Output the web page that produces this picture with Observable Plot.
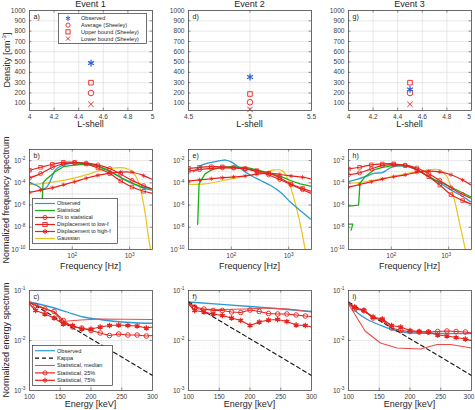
<!DOCTYPE html>
<html>
<head>
<meta charset="utf-8">
<script src="https://cdn.jsdelivr.net/npm/d3@7"></script>
<script src="https://cdn.jsdelivr.net/npm/@observablehq/plot@0.6"></script>
<style>
  body { margin: 0; background: #fff; }
  #fig { position: relative; width: 475px; height: 410px; overflow: hidden;
         font-family: "Liberation Sans", Arial, sans-serif; color: #262626; }
  .lbl { position: absolute; white-space: nowrap; font-size: 9px; line-height: 1; }
  .ylbl { position: absolute; white-space: nowrap; font-size: 9px; line-height: 1;
          transform: translate(-50%, -50%) rotate(-90deg); }
  .lbl sup, .ylbl sup { font-size: 6px; }
</style>
</head>
<body>
<div id="fig"></div>
<script>
// ---------- Density vs L-shell (row 1) ----------
const lshell        = [4.5, 5, 4.5];
const densObserved  = [490, 355, 235];
const densAverage   = [200, 110, 200];
const densUpper     = [300, 190, 300];
const densLower     = [90, 40, 90];

// ---------- Frequency spectra (row 2), values as log10 ----------
const freqGrid = [18, 28, 45, 70, 110, 175, 280, 450, 700, 1100, 1750, 2400];
const fitStat1  = [-3.57, -3.17, -2.62, -2.30, -2.21, -2.23, -2.39, -2.72, -3.22, -3.78, -4.25, -4.53];
const lowF1     = [-2.87, -2.60, -2.33, -2.15, -2.16, -2.31, -2.66, -3.16, -3.84, -4.38, -4.76, -4.92];
const highF1    = [-4.86, -4.66, -4.44, -4.17, -3.90, -3.59, -3.33, -3.13, -3.03, -3.05, -3.35, -3.66];
const fitStat2  = [-2.96, -2.81, -2.69, -2.65, -2.67, -2.75, -2.98, -3.29, -3.70, -4.16, -4.62, -4.93];
const lowF2     = [-2.69, -2.60, -2.55, -2.56, -2.62, -2.72, -2.90, -3.14, -3.55, -4.10, -4.50, -4.75];
const highF2    = [-3.85, -3.74, -3.63, -3.54, -3.47, -3.38, -3.22, -3.12, -3.25, -3.38, -3.50, -3.64];
const fitStat3  = [-3.27, -3.10, -2.74, -2.45, -2.36, -2.41, -2.66, -3.18, -3.78, -4.45, -5.05, -5.36];
const lowF3     = [-2.75, -2.60, -2.38, -2.30, -2.29, -2.45, -2.81, -3.45, -4.20, -5.06, -5.60, -5.87];
const highF3    = [-4.39, -4.15, -3.90, -3.66, -3.45, -3.28, -3.06, -2.95, -3.02, -3.27, -3.75, -4.18];

// [frequency Hz, log10 spectrum]
const obsF1 = [[18,-3.96],[25,-4.3],[30,-4.56],[35,-4.45],[40,-4.0],[45,-3.4],[50,-2.9],[60,-2.55],[70,-2.4],[100,-2.22],[140,-2.2],[200,-2.3],[280,-2.5],[400,-2.8],[560,-3.2],[800,-3.66],[1100,-4.0],[1600,-4.4],[2400,-4.65]];
const statF1 = [[30,-5.5],[31,-4.0],[35,-3.7],[50,-3.0],[70,-2.55],[100,-2.42],[140,-2.35],[200,-2.33],[280,-2.5],[400,-2.85],[560,-3.25],[800,-3.7],[1100,-4.05],[1600,-4.35],[2400,-4.55]];
const gaussF1 = [[18,-4.17],[35,-4.02],[70,-3.78],[140,-3.42],[280,-2.96],[400,-2.75],[560,-2.66],[800,-2.66],[1100,-2.96],[1330,-3.57],[1600,-4.92],[1860,-6.73],[2120,-8.84],[2310,-9.95]];

const obsF2 = [[22,-3.0],[25,-2.75],[30,-2.45],[35,-2.3],[50,-2.12],[65,-2.0],[80,-1.95],[100,-2.12],[148,-2.75],[220,-3.34],[327,-3.79],[485,-4.24],[720,-4.84],[1067,-5.73],[1585,-6.48],[2400,-7.25]];
const statF2 = [[26,-7.73],[27.5,-4.1],[35,-3.19],[45,-2.84],[67,-2.6],[100,-2.54],[200,-2.66],[400,-3.04],[780,-3.49],[1080,-3.79],[1585,-4.09],[2400,-4.3]];
const gaussF2 = [[18,-4.15],[35,-4.09],[100,-3.64],[200,-3.34],[400,-3.04],[553,-2.84],[780,-2.9],[935,-3.49],[1220,-5.28],[1585,-7.67],[1930,-9.97]];

const obsF3 = [[18,-3.9],[25,-3.69],[35,-3.45],[50,-3.14],[70,-3.08],[84,-2.84],[100,-2.6],[140,-2.48],[200,-2.54],[280,-2.84],[400,-3.3],[560,-3.75],[800,-4.2],[1100,-4.65],[1600,-5.1],[2400,-5.7]];
const statF3 = [[18,-6.1],[27,-6.0],[28.5,-4.05],[35,-3.45],[50,-2.84],[70,-2.6],[100,-2.48],[140,-2.42],[200,-2.48],[280,-2.84],[400,-3.3],[560,-3.69],[800,-4.05],[1100,-4.4],[1600,-4.8],[2400,-5.25]];
const statF3b = [[18,-7.72],[21.4,-7.72],[20,-8.26]];
const gaussF3 = [[18,-4.05],[35,-3.9],[70,-3.6],[140,-3.3],[280,-2.99],[560,-2.78],[715,-2.84],[935,-3.45],[1220,-5.25],[1600,-7.96],[1950,-9.98]];

// ---------- Energy spectra (row 3), values as log10 ----------
const energyGrid = [100, 110, 125, 140, 155, 170, 185, 200, 215, 230, 245, 260, 275, 290, 300];
const q25E1 = [-1.25, -1.30, -1.37, -1.42, -1.60, -1.73, -1.75, -1.80, -1.85, -1.90, -1.87, -1.89, -1.89, -1.91, -1.90];
const q75E1 = [-1.27, -1.40, -1.47, -1.55, -1.67, -1.70, -1.77, -1.77, -1.73, -1.70, -1.69, -1.70, -1.71, -1.75, -1.73];
const q25E2 = [-1.25, -1.33, -1.37, -1.40, -1.40, -1.43, -1.44, -1.39, -1.42, -1.46, -1.47, -1.47, -1.49, -1.51, -1.52];
const q75E2 = [-1.27, -1.40, -1.43, -1.47, -1.50, -1.55, -1.60, -1.70, -1.63, -1.59, -1.58, -1.62, -1.69, -1.70, -1.73];
const q25E3 = [-1.24, -1.37, -1.40, -1.55, -1.59, -1.75, -1.80, -1.82, -1.83, -1.83, -1.82, -1.81, -1.82, -1.83, -1.85];
const q75E3 = [-1.24, -1.33, -1.40, -1.53, -1.57, -1.70, -1.73, -1.80, -1.82, -1.83, -1.89, -1.91, -1.94, -1.97, -2.00];

// [energy keV, log10 spectrum]
const obsE1 = [[100,-1.23],[134,-1.33],[161,-1.43],[188,-1.53],[215,-1.58],[242,-1.62],[270,-1.645],[300,-1.655]];
const medE1 = [[100,-1.23],[139,-1.43],[153,-1.62],[183,-1.59],[215,-1.57],[300,-1.58]];
const obsE2 = [[100,-1.23],[200,-1.32],[300,-1.42]];
const medE2 = [[100,-1.25],[116,-1.37],[154,-1.38],[192,-1.37],[230,-1.35],[263,-1.37],[300,-1.43]];
const obsE3 = [[100,-1.237],[114,-1.44],[130,-1.574],[155,-1.71],[179,-1.81],[201,-1.845],[300,-1.86]];
const medE3 = [[100,-1.27],[127,-1.81],[152,-2.05],[179,-2.15],[217,-2.17],[244,-2.08],[266,-2.08],[300,-2.15]];
const kappaE = [[100,-1.23],[150,-1.6],[200,-1.965],[250,-2.33],[300,-2.7]];

// ---------- styling ----------
const RED = "#e8211d", RED_THIN = "#f04a46", BLUE = "#2b9bd4", GREEN = "#16b016",
      GOLD = "#e8c41c", STAR = "#2e5ee0";
const FONT = "Liberation Sans, Arial, sans-serif";
const frameX = [29, 188, 348];
const rowY = [10, 149, 290];
const FW = 123, FH = 100;
const ML = 34, MR = 6, MT = 6, MB = 14;
const fig = document.getElementById("fig");

const pow = d => 10 ** d;
const supFmt = d => "10^" + Math.round(Math.log10(d));

// turn "10^-2" tick labels into 10 with a raised exponent
function raiseExponents(svg) {
  d3.select(svg).selectAll("text").each(function () {
    const m = /^10\^(-?\d+)$/.exec(this.textContent);
    if (!m) return;
    const t = d3.select(this);
    t.text("");
    t.append("tspan").text("10");
    t.append("tspan").attr("dy", "-0.5em").attr("font-size", "4.8px").text(m[1]);
  });
}

// position at fraction t along a domain (linear or log)
function along(domain, log, t) {
  const [a, b] = domain;
  return log ? a * (b / a) ** t : a + (b - a) * t;
}

// short inward tick marks on all four sides of the frame
function innerTicks(opts) {
  const k = 0.025, kx = 0.02;
  const { xDomain, yDomain, xLog, yLog, xTicks, yTicks } = opts;
  const st = { stroke: "#4a4a4a", strokeWidth: 0.6 };
  const xs = xTicks.filter(v => v > xDomain[0] && v < xDomain[1]);
  const ys = yTicks.filter(v => v > yDomain[0] && v < yDomain[1]);
  return [
    Plot.ruleX(xs, { x: d => d, y1: yDomain[0], y2: along(yDomain, yLog, k), ...st }),
    Plot.ruleX(xs, { x: d => d, y1: along(yDomain, yLog, 1 - k), y2: yDomain[1], ...st }),
    Plot.ruleY(ys, { y: d => d, x1: xDomain[0], x2: along(xDomain, xLog, kx), ...st }),
    Plot.ruleY(ys, { y: d => d, x1: along(xDomain, xLog, 1 - kx), x2: xDomain[1], ...st })
  ];
}

function panel(col, row, opts) {
  // the right-most tick label of the last column is nudged inward to stay on the page
  const lastX = opts.xTicks[opts.xTicks.length - 1];
  const xAxes = col === 2
    ? [Plot.axisX(opts.xTicks.slice(0, -1), { tickFormat: opts.xFormat, tickSize: 0, tickPadding: 4, label: null }),
       Plot.axisX([lastX], { tickFormat: opts.xFormat, tickSize: 0, tickPadding: 4, label: null, dx: -2.5 })]
    : [Plot.axisX({ ticks: opts.xTicks, tickFormat: opts.xFormat, tickSize: 0, tickPadding: 4, label: null })];
  const svg = Plot.plot({
    width: FW + ML + MR, height: FH + MT + MB,
    marginLeft: ML, marginRight: MR, marginTop: MT, marginBottom: MB,
    style: { background: "transparent", overflow: "visible", fontFamily: FONT, fontSize: "6.6px", color: "#404040" },
    x: { type: opts.xLog ? "log" : "linear", domain: opts.xDomain },
    y: { type: opts.yLog ? "log" : "linear", domain: opts.yDomain },
    marks: [
      ...opts.grid,
      ...opts.marks,
      ...innerTicks(opts),
      Plot.frame({ stroke: "#4a4a4a", strokeWidth: 0.8 }),
      ...xAxes,
      Plot.axisY({ ticks: opts.yTicks, tickFormat: opts.yFormat, tickSize: 0, tickPadding: 4, label: null }),
      Plot.text([opts.tag], { frameAnchor: "top-left", dx: 4, dy: 4, text: d => d, fontSize: 7, fill: "#222", lineAnchor: "top" })
    ]
  });
  svg.style.position = "absolute";
  svg.style.left = (frameX[col] - ML) + "px";
  svg.style.top = (rowY[row] - MT) + "px";
  raiseExponents(svg);
  fig.appendChild(svg);
}

function html(cls, text, x, y, center = true) {
  const d = document.createElement("div");
  d.className = cls;
  d.innerHTML = text;
  d.style.left = x + "px";
  d.style.top = y + "px";
  if (center && cls === "lbl") d.style.transform = "translate(-50%, 0)";
  fig.appendChild(d);
}

const gridStyle = { stroke: "#d9d9d9", strokeOpacity: 1, strokeWidth: 0.6 };
const minorStyle = { stroke: "#e2e2e2", strokeOpacity: 1, strokeWidth: 0.5, strokeDasharray: "1,1.2" };

// ---------- row 1 ----------
const lTicks = [[4, 4.2, 4.4, 4.6, 4.8, 5], [4.5, 5, 5.5], [4, 4.2, 4.4, 4.6, 4.8, 5]];
const lDomains = [[4, 5], [4.5, 5.5], [4, 5]];
const densTicks = [100, 200, 300, 400, 500, 600, 700, 800, 900, 1000];
["a)", "d)", "g)"].forEach((tag, i) => {
  const pt = v => [{ l: lshell[i], v }];
  panel(i, 0, {
    tag,
    xDomain: lDomains[i], yDomain: [30, 1000],
    xTicks: lTicks[i], xFormat: d => String(d), yTicks: densTicks, yFormat: d => String(d),
    grid: [Plot.gridX(lTicks[i], gridStyle), Plot.gridY(densTicks, gridStyle)],
    marks: [
      Plot.dot(pt(densUpper[i]), { x: "l", y: "v", symbol: "square", r: 2.6, stroke: RED, strokeWidth: 0.9 }),
      Plot.dot(pt(densAverage[i]), { x: "l", y: "v", symbol: "circle", r: 2.8, stroke: RED, strokeWidth: 0.9 }),
      Plot.dot(pt(densLower[i]), { x: "l", y: "v", symbol: "times", r: 2.6, stroke: RED, strokeWidth: 0.9 }),
      Plot.dot(pt(densObserved[i]), { x: "l", y: "v", symbol: "asterisk", r: 3.2, stroke: STAR, strokeWidth: 1.2 })
    ]
  });
});

// ---------- row 2 ----------
const fMinor = [20,30,40,50,60,70,80,90,200,300,400,500,600,700,800,900,2000];
const fMajor = [100, 1000];
const vDecades = d3.range(-10, 0).map(pow);
const freqEvents = [
  { tag: "b)", obs: obsF1, stat: [statF1], gauss: gaussF1, fit: fitStat1, low: lowF1, high: highF1 },
  { tag: "e)", obs: obsF2, stat: [statF2], gauss: gaussF2, fit: fitStat2, low: lowF2, high: highF2 },
  { tag: "h)", obs: obsF3, stat: [statF3, statF3b], gauss: gaussF3, fit: fitStat3, low: lowF3, high: highF3 }
];
const fxy = { x: d => d[0], y: d => pow(d[1]) };
freqEvents.forEach((ev, i) => {
  const redCurves = [[ev.fit, "circle"], [ev.low, "square"], [ev.high, "asterisk"]].map(([vals, symbol]) =>
    [Plot.line(d3.zip(freqGrid, vals), { ...fxy, stroke: RED, strokeWidth: 1.2, curve: "catmull-rom", clip: true }),
     Plot.dot(d3.zip(freqGrid, vals).slice(0, -1), { ...fxy, symbol, r: 2, stroke: RED, strokeWidth: 0.8, clip: true })]).flat();
  panel(i, 1, {
    tag: ev.tag,
    xDomain: [18, 2500], yDomain: [1e-10, 1e-1], xLog: true, yLog: true,
    xTicks: [100, 1000], xFormat: supFmt, yTicks: [1e-10, 1e-8, 1e-6, 1e-4, 1e-2], yFormat: supFmt,
    grid: [Plot.gridX(fMinor, minorStyle), Plot.gridX(fMajor, gridStyle), Plot.gridY(vDecades, gridStyle)],
    marks: [
      Plot.line(ev.gauss, { ...fxy, stroke: GOLD, strokeWidth: 1.2, curve: "catmull-rom", clip: true }),
      Plot.line(ev.obs, { ...fxy, stroke: BLUE, strokeWidth: 1.3, curve: "catmull-rom", clip: true }),
      ...ev.stat.map(s => Plot.line(s, { ...fxy, stroke: GREEN, strokeWidth: 1.3, curve: "linear", clip: true })),
      ...redCurves
    ]
  });
});

// ---------- row 3 ----------
const eMinor = [2,3,4,5,6,7,8,9].flatMap(k => [k * 1e-3, k * 1e-2]);
const energyEvents = [
  { tag: "c)", obs: obsE1, med: medE1, q25: q25E1, q75: q75E1 },
  { tag: "f)", obs: obsE2, med: medE2, q25: q25E2, q75: q75E2 },
  { tag: "i)", obs: obsE3, med: medE3, q25: q25E3, q75: q75E3 }
];
energyEvents.forEach((ev, i) => {
  const t25 = d3.zip(energyGrid, ev.q25), t75 = d3.zip(energyGrid, ev.q75);
  panel(i, 2, {
    tag: ev.tag,
    xDomain: [100, 300], yDomain: [1e-3, 1e-1], yLog: true,
    xTicks: [100, 150, 200, 250, 300], xFormat: d => String(d), yTicks: [1e-3, 1e-2, 1e-1], yFormat: supFmt,
    grid: [Plot.gridY(eMinor, minorStyle), Plot.gridY([1e-2], gridStyle), Plot.gridX([150, 200, 250], gridStyle)],
    marks: [
      Plot.line(ev.obs, { ...fxy, stroke: BLUE, strokeWidth: 1.3, curve: "catmull-rom" }),
      Plot.line(kappaE, { ...fxy, stroke: "#111", strokeWidth: 1.1, strokeDasharray: "4,3" }),
      Plot.line(ev.med, { ...fxy, stroke: RED_THIN, strokeWidth: 1.1 }),
      Plot.line(t25, { ...fxy, stroke: RED, strokeWidth: 1.2 }),
      Plot.dot(t25.slice(1, -1), { ...fxy, symbol: "circle", r: 2.3, stroke: RED, strokeWidth: 0.9 }),
      Plot.line(t75, { ...fxy, stroke: RED, strokeWidth: 1.2 }),
      Plot.dot(t75.slice(1, -1), { ...fxy, symbol: "asterisk", r: 2.6, stroke: RED, strokeWidth: 1.2 })
    ]
  });
});

// ---------- titles and axis labels ----------
["Event 1", "Event 2", "Event 3"].forEach((t, i) => html("lbl", t, frameX[i] + FW / 2, 0));
frameX.forEach(x => {
  html("lbl", "L-shell", x + FW / 2, 120);
  html("lbl", "Frequency [Hz]", x + FW / 2, 262);
  html("lbl", "Energy [keV]", x + FW / 2, 400);
});
html("ylbl", "Density [cm<sup>-3</sup>]", 6, 60, false);
html("ylbl", "Normalized frequency spectrum", 6, 200, false);
html("ylbl", "Normalized energy spectrum", 6, 340, false);

// ---------- legends ----------
function symbolSvg(kind, cx, cy, color) {
  const s = 2.1;
  if (kind === "circle") return `<circle cx="${cx}" cy="${cy}" r="${s}" fill="none" stroke="${color}" stroke-width="0.9"/>`;
  if (kind === "square") return `<rect x="${cx - s}" y="${cy - s}" width="${2 * s}" height="${2 * s}" fill="none" stroke="${color}" stroke-width="0.9"/>`;
  if (kind === "times") return `<path d="M${cx - s},${cy - s}L${cx + s},${cy + s}M${cx - s},${cy + s}L${cx + s},${cy - s}" stroke="${color}" stroke-width="0.9"/>`;
  if (kind === "asterisk") return `<path d="M${cx},${cy - s - 0.6}V${cy + s + 0.6}M${cx - s},${cy - s * 0.6}L${cx + s},${cy + s * 0.6}M${cx - s},${cy + s * 0.6}L${cx + s},${cy - s * 0.6}" stroke="${color}" stroke-width="1"/>`;
  return "";
}
function legend(x, y, w, h, rows, items) {
  const step = (h - 4) / items.length;
  let body = `<rect x="0.5" y="0.5" width="${w - 1}" height="${h - 1}" fill="#fff" stroke="#333" stroke-width="0.7"/>`;
  items.forEach((it, k) => {
    const cy = 2 + step * (k + 0.5);
    if (it.line) body += `<line x1="${rows.l0}" x2="${rows.l1}" y1="${cy}" y2="${cy}" stroke="${it.color}" stroke-width="${it.w || 1.2}" ${it.dash ? `stroke-dasharray="${it.dash}"` : ""}/>`;
    if (it.sym) body += symbolSvg(it.sym, (rows.l0 + rows.l1) / 2, cy, it.symColor || it.color);
    body += `<text x="${rows.tx}" y="${cy}" dy="0.34em" font-size="${rows.fs}" fill="#262626" font-family="${FONT}">${it.label}</text>`;
  });
  const d = document.createElement("div");
  d.style.cssText = `position:absolute;left:${x}px;top:${y}px;width:${w}px;height:${h}px`;
  d.innerHTML = `<svg width="${w}" height="${h}">${body}</svg>`;
  fig.appendChild(d);
}
legend(58, 13, 89, 31, { l0: 6, l1: 14, tx: 23, fs: 5.6 }, [
  { sym: "asterisk", color: STAR, label: "Observed" },
  { sym: "circle", color: RED, label: "Average (Sheeley)" },
  { sym: "square", color: RED, label: "Upper bound (Sheeley)" },
  { sym: "times", color: RED, label: "Lower bound (Sheeley)" }
]);
legend(32, 198, 86, 46, { l0: 3, l1: 23, tx: 25, fs: 5.4 }, [
  { line: true, color: BLUE, label: "Observed" },
  { line: true, color: GREEN, label: "Statistical" },
  { line: true, color: RED, sym: "circle", label: "Fit to statistical" },
  { line: true, color: RED, sym: "square", label: "Displacement to low-f" },
  { line: true, color: RED, sym: "asterisk", label: "Displacement to high-f" },
  { line: true, color: GOLD, label: "Gaussian" }
]);
legend(32, 345, 81, 41, { l0: 3, l1: 23, tx: 25, fs: 5.6 }, [
  { line: true, color: BLUE, label: "Observed" },
  { line: true, color: "#111", dash: "4,3", w: 1.1, label: "Kappa" },
  { line: true, color: RED_THIN, w: 1.1, label: "Statistical, median" },
  { line: true, color: RED, sym: "circle", label: "Statistical, 25%" },
  { line: true, color: RED, sym: "asterisk", label: "Statistical, 75%" }
]);
</script>
</body>
</html>
